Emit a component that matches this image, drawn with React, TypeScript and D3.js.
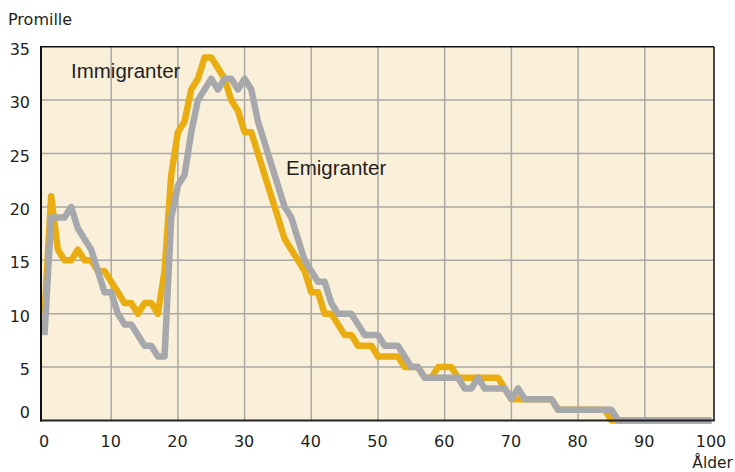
import React from "react";
import * as d3 from "d3";

const ages: number[] = d3.range(0, 101);

const immigranter: number[] = [
  10, 21, 16, 15, 15, 16, 15, 15, 14, 14,
  13, 12, 11, 11, 10, 11, 11, 10, 14, 23,
  27, 28, 31, 32, 34, 34, 33, 32, 30, 29,
  27, 27, 25, 23, 21, 19, 17, 16, 15, 14,
  12, 12, 10, 10, 9, 8, 8, 7, 7, 7,
  6, 6, 6, 6, 5, 5, 5, 4, 4, 5,
  5, 5, 4, 4, 4, 4, 4, 4, 4, 3,
  2, 2, 2, 2, 2, 2, 2, 1, 1, 1,
  1, 1, 1, 1, 1, 0, 0, 0, 0, 0,
  0, 0, 0, 0, 0, 0, 0, 0, 0, 0,
  0,
];

const emigranter: number[] = [
  8, 19, 19, 19, 20, 18, 17, 16, 14, 12,
  12, 10, 9, 9, 8, 7, 7, 6, 6, 19,
  22, 23, 27, 30, 31, 32, 31, 32, 32, 31,
  32, 31, 28, 26, 24, 22, 20, 19, 17, 15,
  14, 13, 13, 11, 10, 10, 10, 9, 8, 8,
  8, 7, 7, 7, 6, 5, 5, 4, 4, 4,
  4, 4, 4, 3, 3, 4, 3, 3, 3, 3,
  2, 3, 2, 2, 2, 2, 2, 1, 1, 1,
  1, 1, 1, 1, 1, 1, 0, 0, 0, 0,
  0, 0, 0, 0, 0, 0, 0, 0, 0, 0,
  0,
];

const xTicks: number[] = [0, 10, 20, 30, 40, 50, 60, 70, 80, 90, 100];
const yTicks: number[] = [0, 5, 10, 15, 20, 25, 30, 35];

const seriesNames = { imm: "Immigranter", emi: "Emigranter" };
const yTitle = "Promille";
const xTitle = "Ålder";

const W = 735;
const H = 472;
const plotLeft = 41;
const plotRight = 714;
const plotTop = 46.7;
const plotBottom = 420.5;

const x = d3.scaleLinear().domain([0, 100]).range([44.5, 711.5]);
const y = d3.scaleLinear().domain([0, 35]).range([plotBottom, plotTop]);

const BG = "#FAF0DA";
const GRID = "#A9A8A5";
const ORANGE = "#E9AD12";
const GREY = "#A7A8AC";
const TEXT = "#231F20";
const tickFont = "'DejaVu Sans', sans-serif";
const labelFont = "'Liberation Sans', Arial, sans-serif";

export default function App() {
  const line = d3
    .line<number>()
    .x((_, i) => x(ages[i]))
    .y((d) => y(d));

  return (
    <svg
      width={W}
      height={H}
      style={{ position: "absolute", left: 0, top: 0, background: "#ffffff" }}
    >
      <rect
        x={plotLeft}
        y={plotTop}
        width={plotRight - plotLeft}
        height={plotBottom - plotTop}
        fill={BG}
      />
      {xTicks
        .filter((t) => t > 0 && t < 100)
        .map((t) => (
          <line
            key={"gx" + t}
            x1={x(t)}
            x2={x(t)}
            y1={plotTop}
            y2={plotBottom}
            stroke={GRID}
            strokeWidth={1.5}
          />
        ))}
      {yTicks
        .filter((t) => t > 0 && t < 35)
        .map((t) => (
          <line
            key={"gy" + t}
            x1={plotLeft}
            x2={plotRight}
            y1={y(t)}
            y2={y(t)}
            stroke={GRID}
            strokeWidth={1.5}
          />
        ))}
      <line x1={plotLeft} x2={plotRight} y1={plotTop} y2={plotTop} stroke="#111" strokeWidth={1.5} />
      <line x1={plotRight} x2={plotRight} y1={plotTop} y2={plotBottom} stroke="#111" strokeWidth={1.5} />

      <path
        d={line(immigranter) || ""}
        fill="none"
        stroke={ORANGE}
        strokeWidth={6.5}
        strokeLinejoin="round"
      />
      <path
        d={line(emigranter) || ""}
        fill="none"
        stroke={GREY}
        strokeWidth={6.5}
        strokeLinejoin="round"
      />

      <line x1={plotLeft} x2={plotLeft} y1={plotTop - 0.75} y2={plotBottom + 1} stroke="#111" strokeWidth={2} />
      <line x1={plotLeft - 1} x2={plotRight + 0.75} y1={plotBottom} y2={plotBottom} stroke="#222" strokeWidth={2} />

      {yTicks.map((t) => (
        <text
          key={"yl" + t}
          x={30}
          y={t === 0 ? y(t) - 3 : y(t) + 8}
          textAnchor="end"
          fontFamily={tickFont}
          fontSize={16}
          fill={TEXT}
        >
          {t}
        </text>
      ))}
      {xTicks.map((t) => (
        <text
          key={"xl" + t}
          x={x(t) - 0.5}
          y={446.5}
          textAnchor="middle"
          fontFamily={tickFont}
          fontSize={16}
          fill={TEXT}
        >
          {t}
        </text>
      ))}
      <text x={8} y={25} fontFamily={tickFont} fontSize={16} fill={TEXT}>
        {yTitle}
      </text>
      <text x={733} y={467.5} textAnchor="end" fontFamily={tickFont} fontSize={15.5} fill={TEXT}>
        {xTitle}
      </text>
      <text x={71} y={77.7} fontFamily={labelFont} fontSize={20.5} fill={TEXT}>
        {seriesNames.imm}
      </text>
      <text x={286} y={175} fontFamily={labelFont} fontSize={20.5} fill={TEXT}>
        {seriesNames.emi}
      </text>
    </svg>
  );
}
